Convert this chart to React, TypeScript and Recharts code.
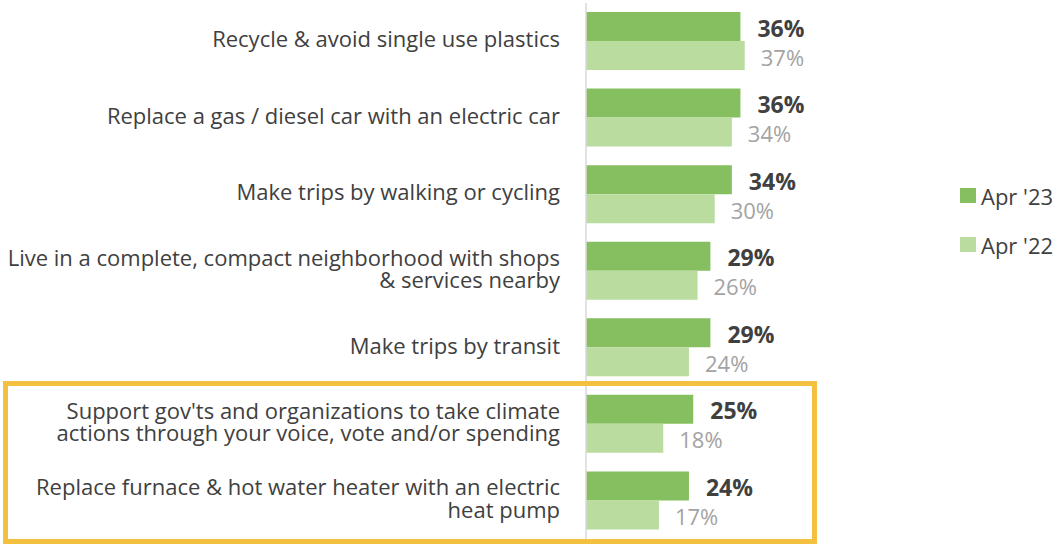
import React from "react";
import { BarChart, Bar, XAxis, YAxis, Legend, LabelList } from "recharts";

const categories = [
  "Recycle & avoid single use plastics",
  "Replace a gas / diesel car with an electric car",
  "Make trips by walking or cycling",
  "Live in a complete, compact neighborhood with shops\n& services nearby",
  "Make trips by transit",
  "Support gov'ts and organizations to take climate\nactions through your voice, vote and/or spending",
  "Replace furnace & hot water heater with an electric\nheat pump",
];
const apr23 = [36, 36, 34, 29, 29, 25, 24];
const apr22 = [37, 34, 30, 26, 24, 18, 17];
const seriesNames = ["Apr '23", "Apr '22"];

const DARK = "#86bf5f";
const LIGHT = "#badc9f";
const TEXT = "#404040";
const FONT = "'Open Sans', sans-serif";

const data = categories.map((name, i) => ({ name, apr23: apr23[i], apr22: apr22[i] }));

function CategoryTick({ x, y, payload }: any) {
  const lines = String(payload.value).split("\n");
  const lh = 22.5;
  const y0 = y - 3 - ((lines.length - 1) * lh) / 2;
  return (
    <g>
      {lines.map((l, i) => (
        <text
          key={i}
          x={x}
          y={y0 + i * lh}
          textAnchor="end"
          dominantBaseline="central"
          fill={TEXT}
          fontSize={22}
          fontFamily={FONT}
        >
          {l}
        </text>
      ))}
    </g>
  );
}

function makeValueLabel(bold: boolean, gap: number) {
  return function ValueLabel(props: any) {
    const { x, y, width, height, value } = props;
    return (
      <text
        x={x + width + gap}
        y={y + height / 2 + 1}
        dominantBaseline="central"
        fill={bold ? TEXT : "#a3a3a3"}
        fontWeight={bold ? 700 : 400}
        fontSize={bold ? 23 : 22}
        fontFamily={FONT}
      >
        {value}%
      </text>
    );
  };
}

function LegendBox() {
  const colors = [DARK, LIGHT];
  return (
    <div style={{ fontFamily: FONT, fontSize: 22, color: TEXT }}>
      {seriesNames.map((n, i) => (
        <div key={n} style={{ display: "flex", alignItems: "center", height: 49 }}>
          <span style={{ width: 16, height: 15, background: colors[i], marginRight: 5, display: "inline-block" }} />
          {n}
        </div>
      ))}
    </div>
  );
}

export default function App() {
  return (
    <div style={{ position: "absolute", left: 0, top: 0, width: 1064, height: 544, background: "#fff" }}>
      <BarChart
        width={1064}
        height={544}
        data={data}
        layout="vertical"
        margin={{ top: 3, right: 49, bottom: 5, left: 0 }}
        barGap={0}
        barSize={29}
      >
        <XAxis type="number" domain={[0, 100]} hide />
        <YAxis
          type="category"
          dataKey="name"
          width={586}
          tickLine={false}
          axisLine={{ stroke: "#d9d9d9", strokeWidth: 1.5 }}
          tick={<CategoryTick />}
          tickMargin={20}
          interval={0}
        />
        <Legend
          layout="vertical"
          align="center"
          verticalAlign="middle"
          content={<LegendBox />}
          wrapperStyle={{ left: 960, top: 171, width: 110 }}
        />
        <Bar dataKey="apr23" name={seriesNames[0]} fill={DARK} isAnimationActive={false}>
          <LabelList dataKey="apr23" content={makeValueLabel(true, 17)} />
        </Bar>
        <Bar dataKey="apr22" name={seriesNames[1]} fill={LIGHT} isAnimationActive={false}>
          <LabelList dataKey="apr22" content={makeValueLabel(false, 16)} />
        </Bar>
      </BarChart>
      <div
        style={{
          position: "absolute",
          left: 3,
          top: 381,
          width: 814,
          height: 163,
          boxSizing: "border-box",
          border: "5px solid #f3c03f",
          pointerEvents: "none",
        }}
      />
    </div>
  );
}
